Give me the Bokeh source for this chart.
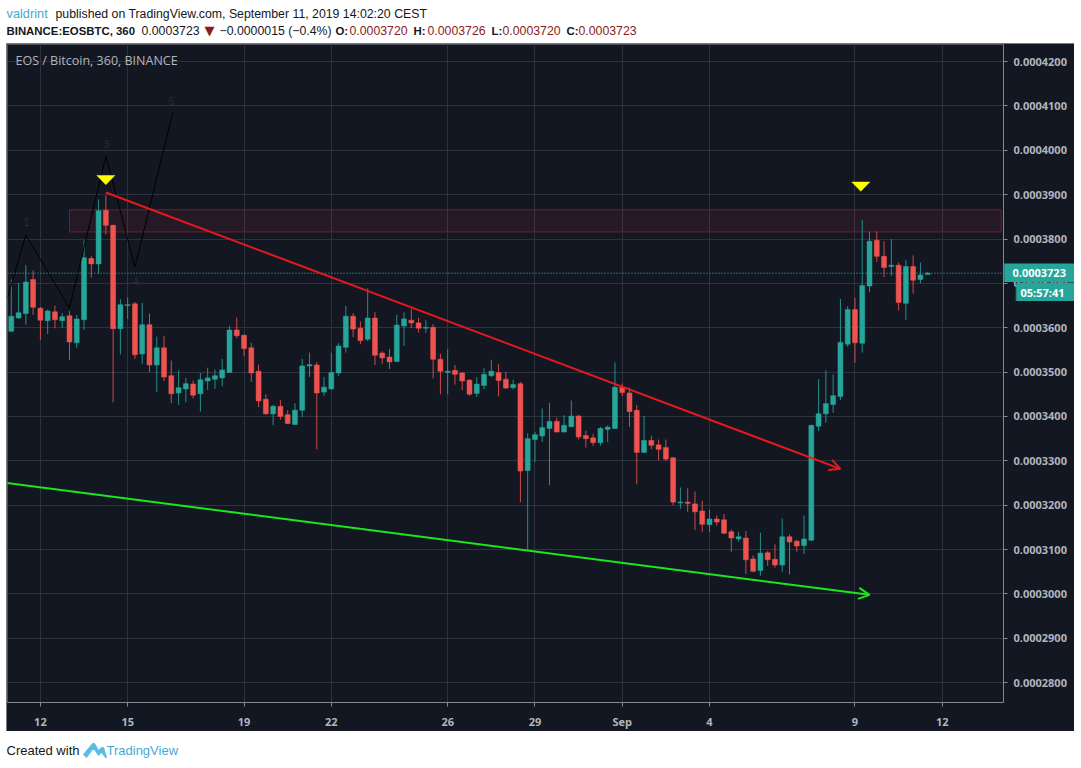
import numpy as np
from bokeh.plotting import figure
from bokeh.layouts import column
from bokeh.core.properties import value
from bokeh.models import (ColumnDataSource, FixedTicker, LinearAxis, NumeralTickFormatter, Range1d,
                          Label, Span, Arrow, OpenHead, Grid)
from bokeh.embed import file_html
from bokeh.resources import INLINE

UNIT = 1e-7  # prices below are in units of 0.0000001 BTC
open_ = [3592,3622,3632,3709,3644,3616,3636,3616,3627,3566,3618,3756,3744,3865,3831,3598,3650,3654,3541,3607,
         3516,3555,3492,3453,3462,3473,3451,3480,3484,3487,3499,3595,3583,3555,3502,3439,3406,3423,3404,3382,
         3414,3514,3516,3455,3462,3498,3556,3626,3599,3574,3622,3543,3534,3524,3604,3617,3611,3599,3601,3529,
         3499,3504,3498,3482,3452,3470,3492,3499,3484,3465,3474,3278,3348,3356,3373,3389,3365,3377,3401,3357,
         3352,3341,3371,3373,3466,3453,3414,3319,3346,3336,3330,3307,3205,3207,3203,3187,3156,3169,3167,3140,
         3124,3126,3079,3053,3093,3078,3065,3129,3119,3109,3121,3378,3406,3427,3445,3563,3641,3565,3694,3797,
         3761,3738,3741,3655,3738,3709,3720]
high = [3709,3701,3741,3729,3647,3641,3650,3633,3638,3629,3797,3762,3889,3898,3832,3664,3668,3658,3656,3632,
        3580,3582,3526,3504,3487,3481,3498,3510,3506,3530,3604,3623,3585,3566,3517,3450,3426,3437,3414,3430,
        3530,3544,3523,3489,3544,3565,3649,3633,3614,3689,3635,3547,3552,3629,3635,3642,3623,3617,3608,3541,
        3552,3516,3500,3484,3489,3509,3528,3518,3500,3483,3478,3362,3365,3418,3431,3397,3403,3436,3404,3368,
        3361,3377,3380,3522,3474,3465,3426,3401,3357,3348,3348,3308,3240,3238,3231,3210,3190,3177,3180,3145,
        3140,3142,3087,3138,3097,3112,3170,3134,3122,3177,3382,3484,3504,3495,3665,3649,3668,3843,3817,3817,
        3795,3800,3747,3753,3763,3747,3726]
low = [3590,3620,3607,3629,3573,3586,3599,3599,3527,3555,3595,3713,3722,3810,3432,3540,3620,3530,3519,3500,
       3455,3480,3430,3426,3432,3441,3411,3460,3462,3468,3498,3577,3536,3478,3421,3404,3380,3393,3383,3381,
       3399,3489,3326,3446,3461,3491,3544,3579,3563,3570,3516,3518,3507,3523,3559,3599,3589,3588,3486,3450,
       3450,3472,3459,3447,3444,3461,3489,3445,3463,3461,3207,3100,3298,3343,3245,3364,3364,3376,3348,3330,
       3334,3334,3342,3372,3446,3377,3247,3318,3326,3301,3299,3200,3192,3185,3144,3140,3140,3154,3135,3095,
       3118,3045,3049,3041,3063,3059,3050,3044,3095,3090,3119,3367,3386,3408,3437,3557,3521,3544,3680,3749,
       3714,3717,3639,3618,3677,3700,3720]
close = [3626,3634,3703,3646,3617,3638,3618,3625,3568,3620,3758,3744,3864,3831,3598,3652,3652,3539,3607,3516,
         3555,3489,3451,3465,3474,3448,3483,3487,3492,3505,3595,3582,3553,3498,3435,3406,3423,3400,3384,3414,
         3514,3517,3453,3466,3499,3559,3626,3597,3571,3622,3538,3532,3523,3606,3620,3611,3599,3601,3529,3502,
         3502,3495,3480,3450,3473,3495,3502,3481,3464,3472,3277,3350,3359,3375,3389,3365,3380,3401,3354,3350,
         3341,3373,3376,3466,3454,3411,3319,3346,3335,3326,3304,3207,3207,3204,3185,3157,3169,3162,3137,3126,
         3129,3077,3051,3092,3077,3065,3129,3117,3108,3124,3380,3406,3429,3447,3567,3641,3566,3695,3795,3761,
         3736,3741,3657,3738,3707,3719,3723]

day_ticks = [4, 16, 32, 44, 60, 72, 84, 96, 116, 128]
day_labels = ["12", "15", "19", "22", "26", "29", "Sep", "4", "9", "12"]
price_ticks = [2800, 2900, 3000, 3100, 3200, 3300, 3400, 3500, 3600, 3700, 3800, 3900, 4000, 4100, 4200]
last_price = 3723
zone_x = [8, 136.1]
zone_price = [3866, 3816]
red_trend_x = [13, 114]
red_trend_price = [3905, 3282]
green_trend_x = [-0.6, 118]
green_trend_price = [3250, 2998]
wave_x = [-0.5, 2, 8, 13, 17, 22.2]
wave_price = [3669, 3809, 3644, 3987, 3737, 4085]
wave_text = ["1", "3", "4", "5"]
wave_text_x = [2.1, 13.1, 17.1, 22]
wave_text_price = [3838, 4015, 3706, 4112]
marker_x = [13, 116.8]
marker_price = [3933, 3918]

# panel geometry in page pixels
PL, PR, PT, PB = 6, 1074, 43, 731
FL, FR, FT, FB = 7, 1003, 44, 703
PAGE_W = 1081
BG = "#131722"
GRID = "#2e323d"
AXIS = "#858892"
TXT = "#b2b5be"
UP, DOWN = "#26a69a", "#ef5350"
INK = "#131722"
LINK = "#4aa8d0"
DARK = "#8b1a1a"
FONT = "Liberation Sans"
MONO = "Open Sans"

o, h, l, c = [np.array(a) * UNIT for a in (open_, high, low, close)]
x = np.arange(len(o))
src = ColumnDataSource(dict(x=x, top=np.maximum(o, c), bottom=np.minimum(o, c), high=h, low=l,
                            color=[UP if u else DOWN for u in (c >= o)]))

SX = 7.273
x0 = 10.8
PX_PER = 0.4443  # px per price unit
y_at = lambda Y: (3900 - (Y - 194.4) / PX_PER) * UNIT

p = figure(width=PR - PL, height=PB - PT, output_backend="svg", toolbar_location=None,
           x_range=Range1d((FL - x0) / SX, (FR - x0) / SX), y_range=Range1d(y_at(FB), y_at(FT)),
           x_axis_location="below", y_axis_location=None,
           min_border_left=FL - PL, min_border_right=PR - FR, min_border_top=FT - PT, min_border_bottom=PB - FB,
           border_fill_color=BG, background_fill_color=BG, outline_line_color=None,
           margin=(0, 0, 0, PL), styles={"outline": "1px solid #9a9ca3", "outline-offset": "-1px"})

xa = p.xaxis[0]
xa.ticker = FixedTicker(ticks=day_ticks)
xa.major_label_overrides = dict(zip(day_ticks, day_labels))
ya = LinearAxis(ticker=FixedTicker(ticks=[t * UNIT for t in price_ticks]),
                formatter=NumeralTickFormatter(format="0.0000000"))
p.add_layout(ya, "right")
for a in (xa, ya):
    a.axis_line_color = AXIS
    a.major_tick_line_color = AXIS
    a.major_tick_in = 0
    a.major_tick_out = 4
    a.minor_tick_line_color = None
    a.major_label_text_color = TXT
    a.major_label_text_font = MONO
    a.major_label_text_font_style = "bold"
    a.major_label_text_font_size = "11px"
ya.major_label_standoff = 6
xa.major_label_standoff = 7
p.xgrid[0].ticker = FixedTicker(ticks=day_ticks)
p.ygrid.visible = False
p.xgrid.grid_line_color = GRID
p.add_layout(Grid(dimension=1, ticker=ya.ticker, grid_line_color=GRID))

# resistance zone
p.quad(left=[zone_x[0]], right=[zone_x[1]], top=[zone_price[0] * UNIT], bottom=[zone_price[1] * UNIT],
       fill_color="#f23645", fill_alpha=0.08, line_color="#7c1a24", line_width=1)

# candles
p.segment("x", "high", "x", "low", source=src, color="color", line_width=1, line_alpha=0.85)
p.vbar("x", 0.68, "bottom", "top", source=src, fill_color="color", line_color="color", line_width=0.5)

# last price line
p.add_layout(Span(location=last_price * UNIT, dimension="width", line_color="#3fb8ad",
                  line_dash=[1, 2], line_width=1))

# wave drawing
p.line(wave_x, [v * UNIT for v in wave_price], line_color="#000000", line_width=1)
p.text(wave_text_x, [v * UNIT for v in wave_text_price], text=wave_text, text_color="#2a2e39",
       text_font_size="10px", text_font=value(FONT), text_align="center", text_baseline="middle")

# trend lines
for tx, ty, col in ((red_trend_x, red_trend_price, "#e8191c"), (green_trend_x, green_trend_price, "#1ee61e")):
    p.add_layout(Arrow(end=OpenHead(size=11, line_color=col, line_width=2),
                       x_start=tx[0], y_start=ty[0] * UNIT, x_end=tx[1], y_end=ty[1] * UNIT,
                       line_color=col, line_width=2))

# markers: flat yellow triangles, 18px wide and 9px tall
mw, mh = 9 / SX, 4.6 / PX_PER
p.patches([[mx - mw, mx + mw, mx] for mx in marker_x],
          [[(v + mh) * UNIT, (v + mh) * UNIT, (v - mh) * UNIT] for v in marker_price],
          fill_color="#ffff00", line_color="#ffff00", line_width=0.5)

# pane title
p.add_layout(Label(x=(15 - x0) / SX, y=y_at(60), text="EOS / Bitcoin, 360, BINANCE", text_color=TXT,
                   text_font=MONO, text_font_size="12.5px", text_baseline="middle"))


def strip(width, height, x0_, x1_, y0_, y1_, bg="white", **kw):
    f = figure(width=width, height=height, frame_width=width, frame_height=height,
               output_backend="svg", toolbar_location=None,
               x_range=Range1d(x0_, x1_), y_range=Range1d(y1_, y0_), x_axis_location=None, y_axis_location=None,
               min_border_left=0, min_border_right=0, min_border_top=0, min_border_bottom=0,
               outline_line_color=None, background_fill_color=bg, border_fill_color=bg, **kw)
    f.xgrid.visible = False
    f.ygrid.visible = False
    return f


def text(f, s, X, Y, color, size="12.3px", bold=False, font=FONT):
    f.add_layout(Label(x=X, y=Y, text=s, text_color=color, text_font=font, text_font_size=size,
                       text_font_style="bold" if bold else "normal", text_align="left", text_baseline="middle"))


# header
head = strip(PAGE_W, PT, 0, PAGE_W, 0, PT)
text(head, "valdrint", 5, 13, LINK, "12.8px")
text(head, "published on TradingView.com, September 11, 2019 14:02:20 CEST", 54, 13, INK)
text(head, "BINANCE:EOSBTC, 360", 5, 30, INK, "11.4px", True)
text(head, "0.0003723", 140, 30, INK)
text(head, "\u25bc", 203, 30, DARK, "13px", False, "DejaVu Sans")
text(head, "\u22120.0000015 (\u22120.4%)", 218, 30, INK)
for lab, lx, val, vx in (("O:", 334, "0.0003720", 348), ("H:", 412, "0.0003726", 426),
                         ("L:", 490, "0.0003720", 501), ("C:", 565, "0.0003723", 577)):
    text(head, lab, lx, 30, INK, "11.4px", True)
    text(head, val, vx, 30, DARK)

# footer
foot = strip(PAGE_W, 768 - PB, 0, PAGE_W, PB, 768)
text(foot, "Created with", 5, 750, INK, "13px")
text(foot, "TradingView", 105, 750, LINK, "13px")
logo_x = [82, 91, 93, 97, 100, 102, 105, 104, 100, 97, 93, 91, 85]
logo_y = [754, 743, 743, 750, 747, 747, 757, 757, 752, 755, 749, 749, 757]
foot.patch(logo_x, logo_y, fill_color="#5bbde4", line_color="#5bbde4", line_width=1)


# price tags laid over the price axis
def tag(s, X0, X1, Y0, Y1, tx):
    f = strip(X1 - X0, Y1 - Y0, X0, X1, Y0, Y1, bg=UP,
              styles={"position": "absolute", "left": f"{X0}px", "top": f"{Y0}px"})
    text(f, s, tx, (Y0 + Y1) / 2, "#ffffff", "11px", True, MONO)
    return f


tag_price = tag("0.0003723", 1003, 1074, 263, 282, 1011)
tag_clock = tag("05:57:41", 1015, 1074, 282, 301, 1019)

page = column(head, p, foot, tag_price, tag_clock, spacing=0)
open("out.html", "w").write(file_html(page, INLINE))
